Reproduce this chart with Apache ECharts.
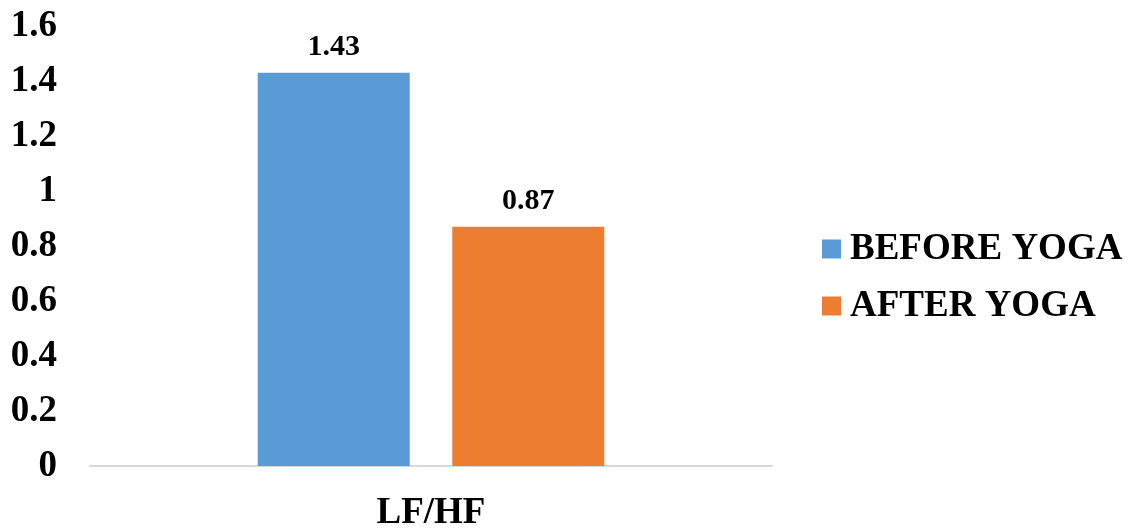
<!DOCTYPE html>
<html>
<head>
<meta charset="utf-8">
<script src="https://cdn.jsdelivr.net/npm/echarts@6/dist/echarts.min.js"></script>
<style>
  html, body { margin: 0; padding: 0; background: #fff; }
  #chart { width: 1130px; height: 532px; }
</style>
</head>
<body>
<div id="chart"></div>
<script>
// LF/HF ratio before and after yoga
const categories = ['LF/HF'];
const seriesNames = ['BEFORE YOGA', 'AFTER YOGA'];
const beforeYoga = [1.43];
const afterYoga = [0.87];
const colors = ['#5B9BD5', '#ED7D31'];

const font = '"Liberation Serif", "Times New Roman", serif';

const chart = echarts.init(document.getElementById('chart'));

const labelStyle = {
  show: true,
  position: 'top',
  distance: 11,
  fontFamily: font,
  fontWeight: 'bold',
  fontSize: 30,
  color: '#000',
  formatter: p => p.value.toFixed(2)
};

chart.setOption({
  animation: false,
  backgroundColor: '#fff',
  grid: { left: 90, right: 358, top: 26, bottom: 60, containLabel: false },
  legend: {
    orient: 'vertical',
    left: 817,
    top: 224,
    itemWidth: 19,
    itemHeight: 19,
    itemGap: 17,
    icon: 'rect',
    textStyle: {
      fontFamily: font,
      fontWeight: 'bold',
      fontSize: 37,
      lineHeight: 40,
      color: '#000',
      padding: [0, 0, 0, 4]
    },
    data: seriesNames
  },
  xAxis: {
    type: 'category',
    data: categories,
    axisLine: { show: true, lineStyle: { color: '#d9d9d9', width: 2 } },
    axisTick: { show: false },
    axisLabel: {
      margin: 29,
      fontFamily: font,
      fontWeight: 'bold',
      fontSize: 37,
      color: '#000'
    }
  },
  yAxis: {
    type: 'value',
    min: 0,
    max: 1.6,
    interval: 0.2,
    splitLine: { show: false },
    axisLine: { show: false },
    axisTick: { show: false },
    axisLabel: {
      margin: 33,
      fontFamily: font,
      fontWeight: 'bold',
      fontSize: 37,
      color: '#000',
      formatter: v => String(Math.round(v * 10) / 10)
    }
  },
  series: [
    {
      name: seriesNames[0],
      type: 'bar',
      data: beforeYoga,
      barWidth: 152,
      barGap: '28%',
      itemStyle: { color: colors[0] },
      label: labelStyle
    },
    {
      name: seriesNames[1],
      type: 'bar',
      data: afterYoga,
      barWidth: 152,
      barGap: '28%',
      itemStyle: { color: colors[1] },
      label: labelStyle
    }
  ]
});
</script>
</body>
</html>
